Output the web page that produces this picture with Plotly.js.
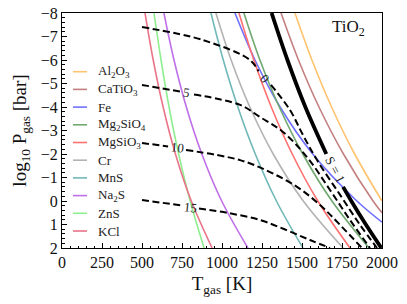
<!DOCTYPE html>
<html><head><meta charset="utf-8">
<script src="https://cdn.plot.ly/plotly-3.0.1.min.js"></script>
<style>html,body{margin:0;padding:0;background:#fff}</style>
</head><body><div id="chart" style="width:407px;height:304px"></div>
<script>
// Condensation curves: log10 P [bar] and T [K]
const speciesNames = ['Al<sub>2</sub>O<sub>3</sub>','CaTiO<sub>3</sub>','Fe','Mg<sub>2</sub>SiO<sub>4</sub>','MgSiO<sub>3</sub>','Cr','MnS','Na<sub>2</sub>S','ZnS','KCl'];
const speciesColors = ['#ffc36e','#c48080','#7070ff','#70a870','#ff7070','#b3b3b3','#70b8b8','#bf70e8','#90ee90','#ea7489'];

const pAl2O3 = [-8,-6,-4,-2,0];           const tAl2O3 = [1456,1562,1685,1829,2000];
const pCaTiO3 = [-8,-6,-4,-2,0,0.5];      const tCaTiO3 = [1369,1478,1606,1759,1944,2000];
const pFe = [-8,-6,-4,-2,0,0.9];          const tFe = [1081,1206,1363,1567,1843,2000];
const pMg2SiO4 = [-8,-6,-4,-2,0,2];       const tMg2SiO4 = [1137,1237,1358,1505,1687,1919];
const pMgSiO3 = [-8,-6,-4,-2,0,2];        const tMgSiO3 = [1106,1199,1308,1439,1599,1800];
const pCr = [-8,-6,-4,-2,0,2];            const tCr = [962,1057,1174,1320,1508,1757];
const pMnS = [-8,-6,-4,-2,0,2];           const tMnS = [931,1008,1099,1208,1340,1506];
const pNa2S = [-8,-6,-4,-2,0,2];          const tNa2S = [637,700,777,874,998,1162];
const pZnS = [-8,-6,-4,-2,0,2];           const tZnS = [575,619,669,729,801,888];
const pKCl = [-8,-6,-4,-2,0,2];           const tKCl = [519,570,632,709,808,938];

// TiO2 supersaturation S = 1 (gap where the label sits)
const sT = [1310,1409,1521,1652,null,1757,1808,1899,1996];
const sP = [-8,-6,-4,-2,null,-0.6,0,1,2];

// Dashed contours labelled 0, 5, 10, 15 (gap where the label sits)
const c0T = [500,881,1175,1228,null,1306,1425,1506,1594,1738,1863,1969];
const c0P = [-7.40,-6.85,-6.0,-5.52,null,-4.94,-3.87,-2.81,-1.74,-0.26,1.02,2];
const c5T = [500,744,null,825,1113,1238,1381,1531,1675,1800,1925];
const c5P = [-4.94,-4.65,null,-4.53,-4.09,-3.57,-2.94,-1.87,-0.47,0.81,2];
const c10T = [500,663,null,775,1113,1300,1469,1613,1738,1875];
const c10P = [-2.47,-2.32,null,-2.17,-1.74,-1.23,-0.60,0.17,1.02,2];
const c15T = [500,750,null,856,1038,1238,1400,1550,1675];
const c15P = [-0.04,0.19,null,0.32,0.51,0.81,1.23,1.66,2];

const labelText = ['0','5','10','15','S = 1'];
const labelT = [1269,781,719,800,1706];
const labelP = [-5.23,-4.60,-2.26,0.26,-1.32];
const labelAngle = [50,8,6,6,62];

const xTicks = [0,250,500,750,1000,1250,1500,1750,2000];
const yTicks = [-8,-7,-6,-5,-4,-3,-2,-1,0,1,2];

const FONT = 'Liberation Serif';

const speciesP = [pAl2O3,pCaTiO3,pFe,pMg2SiO4,pMgSiO3,pCr,pMnS,pNa2S,pZnS,pKCl];
const speciesT = [tAl2O3,tCaTiO3,tFe,tMg2SiO4,tMgSiO3,tCr,tMnS,tNa2S,tZnS,tKCl];

const traces = [];
speciesNames.forEach((n,i)=>{
  traces.push({x:speciesT[i], y:speciesP[i], mode:'lines', name:n, showlegend:false,
    line:{color:speciesColors[i], width:1.6, shape:'spline'}, hoverinfo:'skip'});
});
[[c0T,c0P],[c5T,c5P],[c10T,c10P],[c15T,c15P]].forEach(c=>{
  traces.push({x:c[0], y:c[1], mode:'lines', showlegend:false, connectgaps:false,
    line:{color:'#000', width:2, dash:'7px,3.5px', shape:'spline'}, hoverinfo:'skip'});
});
traces.push({x:sT, y:sP, mode:'lines', showlegend:false, connectgaps:false,
  line:{color:'#000', width:3.8, shape:'spline'}, hoverinfo:'skip'});

const L=62, R=382, T0=13, B=248, W=R-L, H=B-T0;
const shapes=[], annotations=[];
speciesNames.forEach((n,i)=>{
  const yp = 71.7 + i*17.7;
  const yy = (B-yp)/H;
  shapes.push({type:'line', xref:'paper', yref:'paper', x0:(73-L)/W, x1:(87-L)/W, y0:yy, y1:yy,
    line:{color:speciesColors[i], width:1.6}});
  annotations.push({xref:'paper', yref:'paper', x:(96-L)/W, y:yy, xanchor:'left', yanchor:'middle',
    text:n, showarrow:false, font:{family:FONT, size:13, color:'#222'}});
});
labelText.forEach((t,i)=>{
  annotations.push({x:labelT[i], y:labelP[i], text:t, showarrow:false, textangle:labelAngle[i],
    font:{family:FONT, size:13, color:'#222'}, xanchor:'center', yanchor:'middle'});
});
annotations.push({xref:'paper', yref:'paper', x:(348-L)/W, y:(B-28)/H, text:'TiO<sub>2</sub>',
  showarrow:false, xanchor:'center', yanchor:'middle', font:{family:FONT, size:17, color:'#111'}});

const axisCommon = {showline:true, linecolor:'#000', linewidth:1, mirror:true, showgrid:false, zeroline:false,
  ticks:'inside', ticklen:5, tickwidth:1, tickcolor:'#000', tickfont:{family:FONT, size:16, color:'#111'}};

const layout = {
  width:407, height:304, margin:{l:L, r:407-R, t:T0, b:304-B},
  paper_bgcolor:'#fff', plot_bgcolor:'#fff', showlegend:false,
  xaxis:Object.assign({}, axisCommon, {range:[0,2000], tickvals:xTicks,
    minor:{dtick:50, tick0:0, ticks:'inside', ticklen:2.5, tickcolor:'#000', showgrid:false},
    title:{text:'T<sub>gas</sub> [K]', font:{family:FONT, size:19, color:'#111'}, standoff:6}}),
  yaxis:Object.assign({}, axisCommon, {range:[2,-8], tickvals:yTicks,
    minor:{dtick:0.2, tick0:0, ticks:'inside', ticklen:2.5, tickcolor:'#000', showgrid:false},
    title:{text:'log<sub>10</sub> P<sub>gas</sub> [bar]', font:{family:FONT, size:19, color:'#111'}, standoff:9}}),
  shapes:shapes, annotations:annotations
};
Plotly.newPlot('chart', traces, layout, {displayModeBar:false});
</script></body></html>
